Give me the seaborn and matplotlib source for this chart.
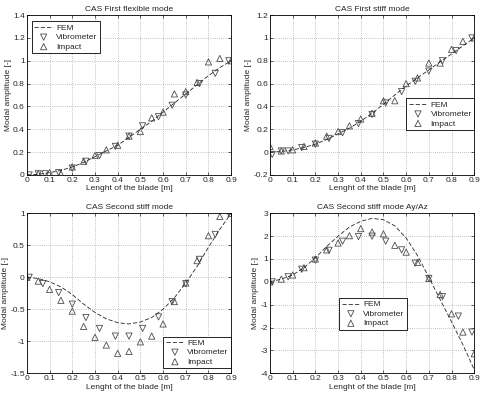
# -*- coding: utf-8 -*-
import numpy as np
import seaborn as sns
import matplotlib.pyplot as plt
from matplotlib.ticker import FuncFormatter, MultipleLocator

# ---- data ----
# 1) CAS First flexible mode
fem1_x = [0, 0.05, 0.1, 0.15, 0.2, 0.25, 0.3, 0.35, 0.4, 0.45, 0.5, 0.55, 0.6, 0.65, 0.7, 0.75, 0.8, 0.85, 0.9]
fem1_y = [0, 0.005, 0.02, 0.04, 0.07, 0.11, 0.16, 0.21, 0.26, 0.33, 0.40, 0.47, 0.55, 0.63, 0.71, 0.79, 0.87, 0.94, 1.0]
vib1_x = [0.01, 0.05, 0.08, 0.14, 0.2, 0.26, 0.32, 0.39, 0.45, 0.51, 0.58, 0.64, 0.7, 0.76, 0.83, 0.89]
vib1_y = [0.0, 0.01, 0.01, 0.02, 0.06, 0.12, 0.17, 0.25, 0.34, 0.43, 0.51, 0.61, 0.70, 0.80, 0.89, 1.0]
imp1_x = [0, 0.05, 0.1, 0.15, 0.2, 0.25, 0.3, 0.35, 0.4, 0.45, 0.5, 0.55, 0.6, 0.65, 0.7, 0.75, 0.8, 0.85, 0.9]
imp1_y = [0.0, 0.01, 0.02, 0.01, 0.07, 0.12, 0.17, 0.22, 0.26, 0.34, 0.38, 0.50, 0.55, 0.71, 0.73, 0.81, 0.99, 1.02, 1.0]

# 2) CAS First stiff mode
fem2_x = [0, 0.05, 0.1, 0.15, 0.2, 0.25, 0.3, 0.35, 0.4, 0.45, 0.5, 0.55, 0.6, 0.65, 0.7, 0.75, 0.8, 0.85, 0.9]
fem2_y = [0, 0.005, 0.02, 0.04, 0.07, 0.11, 0.16, 0.21, 0.27, 0.34, 0.42, 0.50, 0.58, 0.65, 0.72, 0.79, 0.86, 0.93, 1.0]
vib2_x = [0.01, 0.05, 0.08, 0.14, 0.2, 0.26, 0.32, 0.39, 0.45, 0.51, 0.58, 0.64, 0.7, 0.76, 0.82, 0.89]
vib2_y = [-0.02, 0.01, 0.01, 0.04, 0.07, 0.12, 0.17, 0.25, 0.33, 0.43, 0.53, 0.62, 0.71, 0.80, 0.89, 1.0]
imp2_x = [0, 0.05, 0.1, 0.15, 0.2, 0.25, 0.3, 0.35, 0.4, 0.45, 0.5, 0.55, 0.6, 0.65, 0.7, 0.75, 0.8, 0.85, 0.9]
imp2_y = [0.05, 0.01, 0.02, 0.05, 0.08, 0.14, 0.18, 0.23, 0.29, 0.34, 0.45, 0.45, 0.60, 0.65, 0.78, 0.78, 0.90, 0.97, 1.0]

# 3) CAS Second stiff mode
fem3_x = [0, 0.05, 0.1, 0.15, 0.2, 0.25, 0.3, 0.35, 0.4, 0.45, 0.5, 0.55, 0.6, 0.65, 0.7, 0.75, 0.8, 0.85, 0.9]
fem3_y = [0, -0.02, -0.07, -0.15, -0.27, -0.42, -0.55, -0.65, -0.71, -0.73, -0.70, -0.63, -0.50, -0.32, -0.09, 0.17, 0.47, 0.75, 1.0]
vib3_x = [0.01, 0.07, 0.14, 0.2, 0.26, 0.32, 0.39, 0.45, 0.51, 0.58, 0.64, 0.7, 0.76, 0.83, 0.89]
vib3_y = [0.0, -0.10, -0.24, -0.42, -0.63, -0.80, -0.92, -0.92, -0.80, -0.62, -0.38, -0.10, 0.28, 0.67, 1.0]
imp3_x = [0, 0.05, 0.1, 0.15, 0.2, 0.25, 0.3, 0.35, 0.4, 0.45, 0.5, 0.55, 0.6, 0.65, 0.7, 0.75, 0.8, 0.85, 0.9]
imp3_y = [0.0, -0.06, -0.19, -0.36, -0.53, -0.77, -0.94, -1.06, -1.19, -1.16, -1.01, -0.92, -0.73, -0.38, -0.09, 0.26, 0.65, 0.95, 1.0]

# 4) CAS Second stiff mode Ay/Az
fem4_x = [0, 0.05, 0.1, 0.15, 0.2, 0.25, 0.3, 0.35, 0.4, 0.45, 0.5, 0.55, 0.6, 0.65, 0.7, 0.75, 0.8, 0.85, 0.9]
fem4_y = [0, 0.12, 0.3, 0.62, 1.05, 1.55, 2.0, 2.4, 2.65, 2.78, 2.72, 2.45, 1.92, 1.15, 0.2, -0.78, -1.75, -2.75, -3.85]
vib4_x = [0.01, 0.08, 0.14, 0.2, 0.26, 0.32, 0.39, 0.45, 0.51, 0.58, 0.64, 0.7, 0.76, 0.83, 0.89]
vib4_y = [0.0, 0.22, 0.55, 0.95, 1.38, 1.78, 1.98, 2.0, 1.78, 1.4, 0.82, 0.15, -0.65, -1.5, -2.2]
imp4_x = [0, 0.05, 0.1, 0.15, 0.2, 0.25, 0.3, 0.35, 0.4, 0.45, 0.5, 0.55, 0.6, 0.65, 0.7, 0.75, 0.8, 0.85, 0.9]
imp4_y = [0.0, 0.12, 0.3, 0.62, 1.0, 1.4, 1.7, 2.02, 2.33, 2.18, 2.1, 1.6, 1.3, 0.85, 0.15, -0.55, -1.4, -2.2, -3.15]

titles = ['CAS First flexible mode', 'CAS First stiff mode',
          'CAS Second stiff mode', 'CAS Second stiff mode Ay/Az']
ylims = [(0, 1.4), (-0.2, 1.2), (-1.5, 1), (-4, 3)]
ysteps = [0.2, 0.2, 0.5, 1]

sns.set_style('whitegrid', {'grid.linestyle': ':', 'grid.color': '0.6',
                            'axes.edgecolor': 'black'})
plt.rcParams['font.family'] = ['Liberation Sans', 'DejaVu Sans']
plt.rcParams['font.size'] = 6

fig, axes = plt.subplots(2, 2, figsize=(4.8, 3.97), dpi=100)
fig.subplots_adjust(left=0.056, right=0.988, top=0.962, bottom=0.06,
                    wspace=0.19, hspace=0.24)

sets = [(fem1_x, fem1_y, vib1_x, vib1_y, imp1_x, imp1_y),
        (fem2_x, fem2_y, vib2_x, vib2_y, imp2_x, imp2_y),
        (fem3_x, fem3_y, vib3_x, vib3_y, imp3_x, imp3_y),
        (fem4_x, fem4_y, vib4_x, vib4_y, imp4_x, imp4_y)]

legend_pos = [dict(loc='upper left', bbox_to_anchor=(0.025, 0.96)),
              dict(loc='center right', bbox_to_anchor=(1.0, 0.38)),
              dict(loc='lower right', bbox_to_anchor=(1.0, 0.03)),
              dict(loc='center', bbox_to_anchor=(0.505, 0.37))]

fmt = FuncFormatter(lambda v, p: '%g' % round(v, 3))

for i, ax in enumerate(axes.flat):
    fx, fy, vx, vy, ix, iy = sets[i]
    sns.lineplot(x=fx, y=fy, ax=ax, color='0.15', dashes=(5, 2.5),
                 linewidth=0.6, label='FEM', sort=False)
    sns.scatterplot(x=vx, y=vy, ax=ax, marker='v', s=20, facecolor='none',
                    edgecolor='0.3', linewidth=0.6, label='Vibrometer')
    sns.scatterplot(x=ix, y=iy, ax=ax, marker='^', s=20, facecolor='none',
                    edgecolor='0.3', linewidth=0.6, label='Impact')

    ax.set_xlim(0, 0.9)
    ax.set_ylim(*ylims[i])
    ax.xaxis.set_major_locator(MultipleLocator(0.1))
    ax.yaxis.set_major_locator(MultipleLocator(ysteps[i]))
    ax.xaxis.set_major_formatter(fmt)
    ax.yaxis.set_major_formatter(fmt)
    ax.tick_params(direction='in', length=2, width=0.5, labelsize=6, pad=1.5,
                   top=True, right=True, bottom=True, left=True)
    for s in ax.spines.values():
        s.set_linewidth(0.6)
        s.set_color('black')
    ax.grid(True, linestyle=(0, (1, 2)), color='0.55', linewidth=0.5)
    ax.set_title(titles[i], fontsize=6, pad=3)
    ax.set_xlabel('Lenght of the blade [m]', fontsize=6, labelpad=1)
    ax.set_ylabel('Modal amplitude [-]', fontsize=6, labelpad=1)

    leg = ax.legend(fontsize=6, frameon=True, fancybox=False, framealpha=1,
                    edgecolor='black', handlelength=2.2, handletextpad=0.4,
                    borderpad=0.3, labelspacing=0.2, borderaxespad=0,
                    **legend_pos[i])
    leg.get_frame().set_linewidth(0.6)

plt.savefig('out.png', dpi=100)
